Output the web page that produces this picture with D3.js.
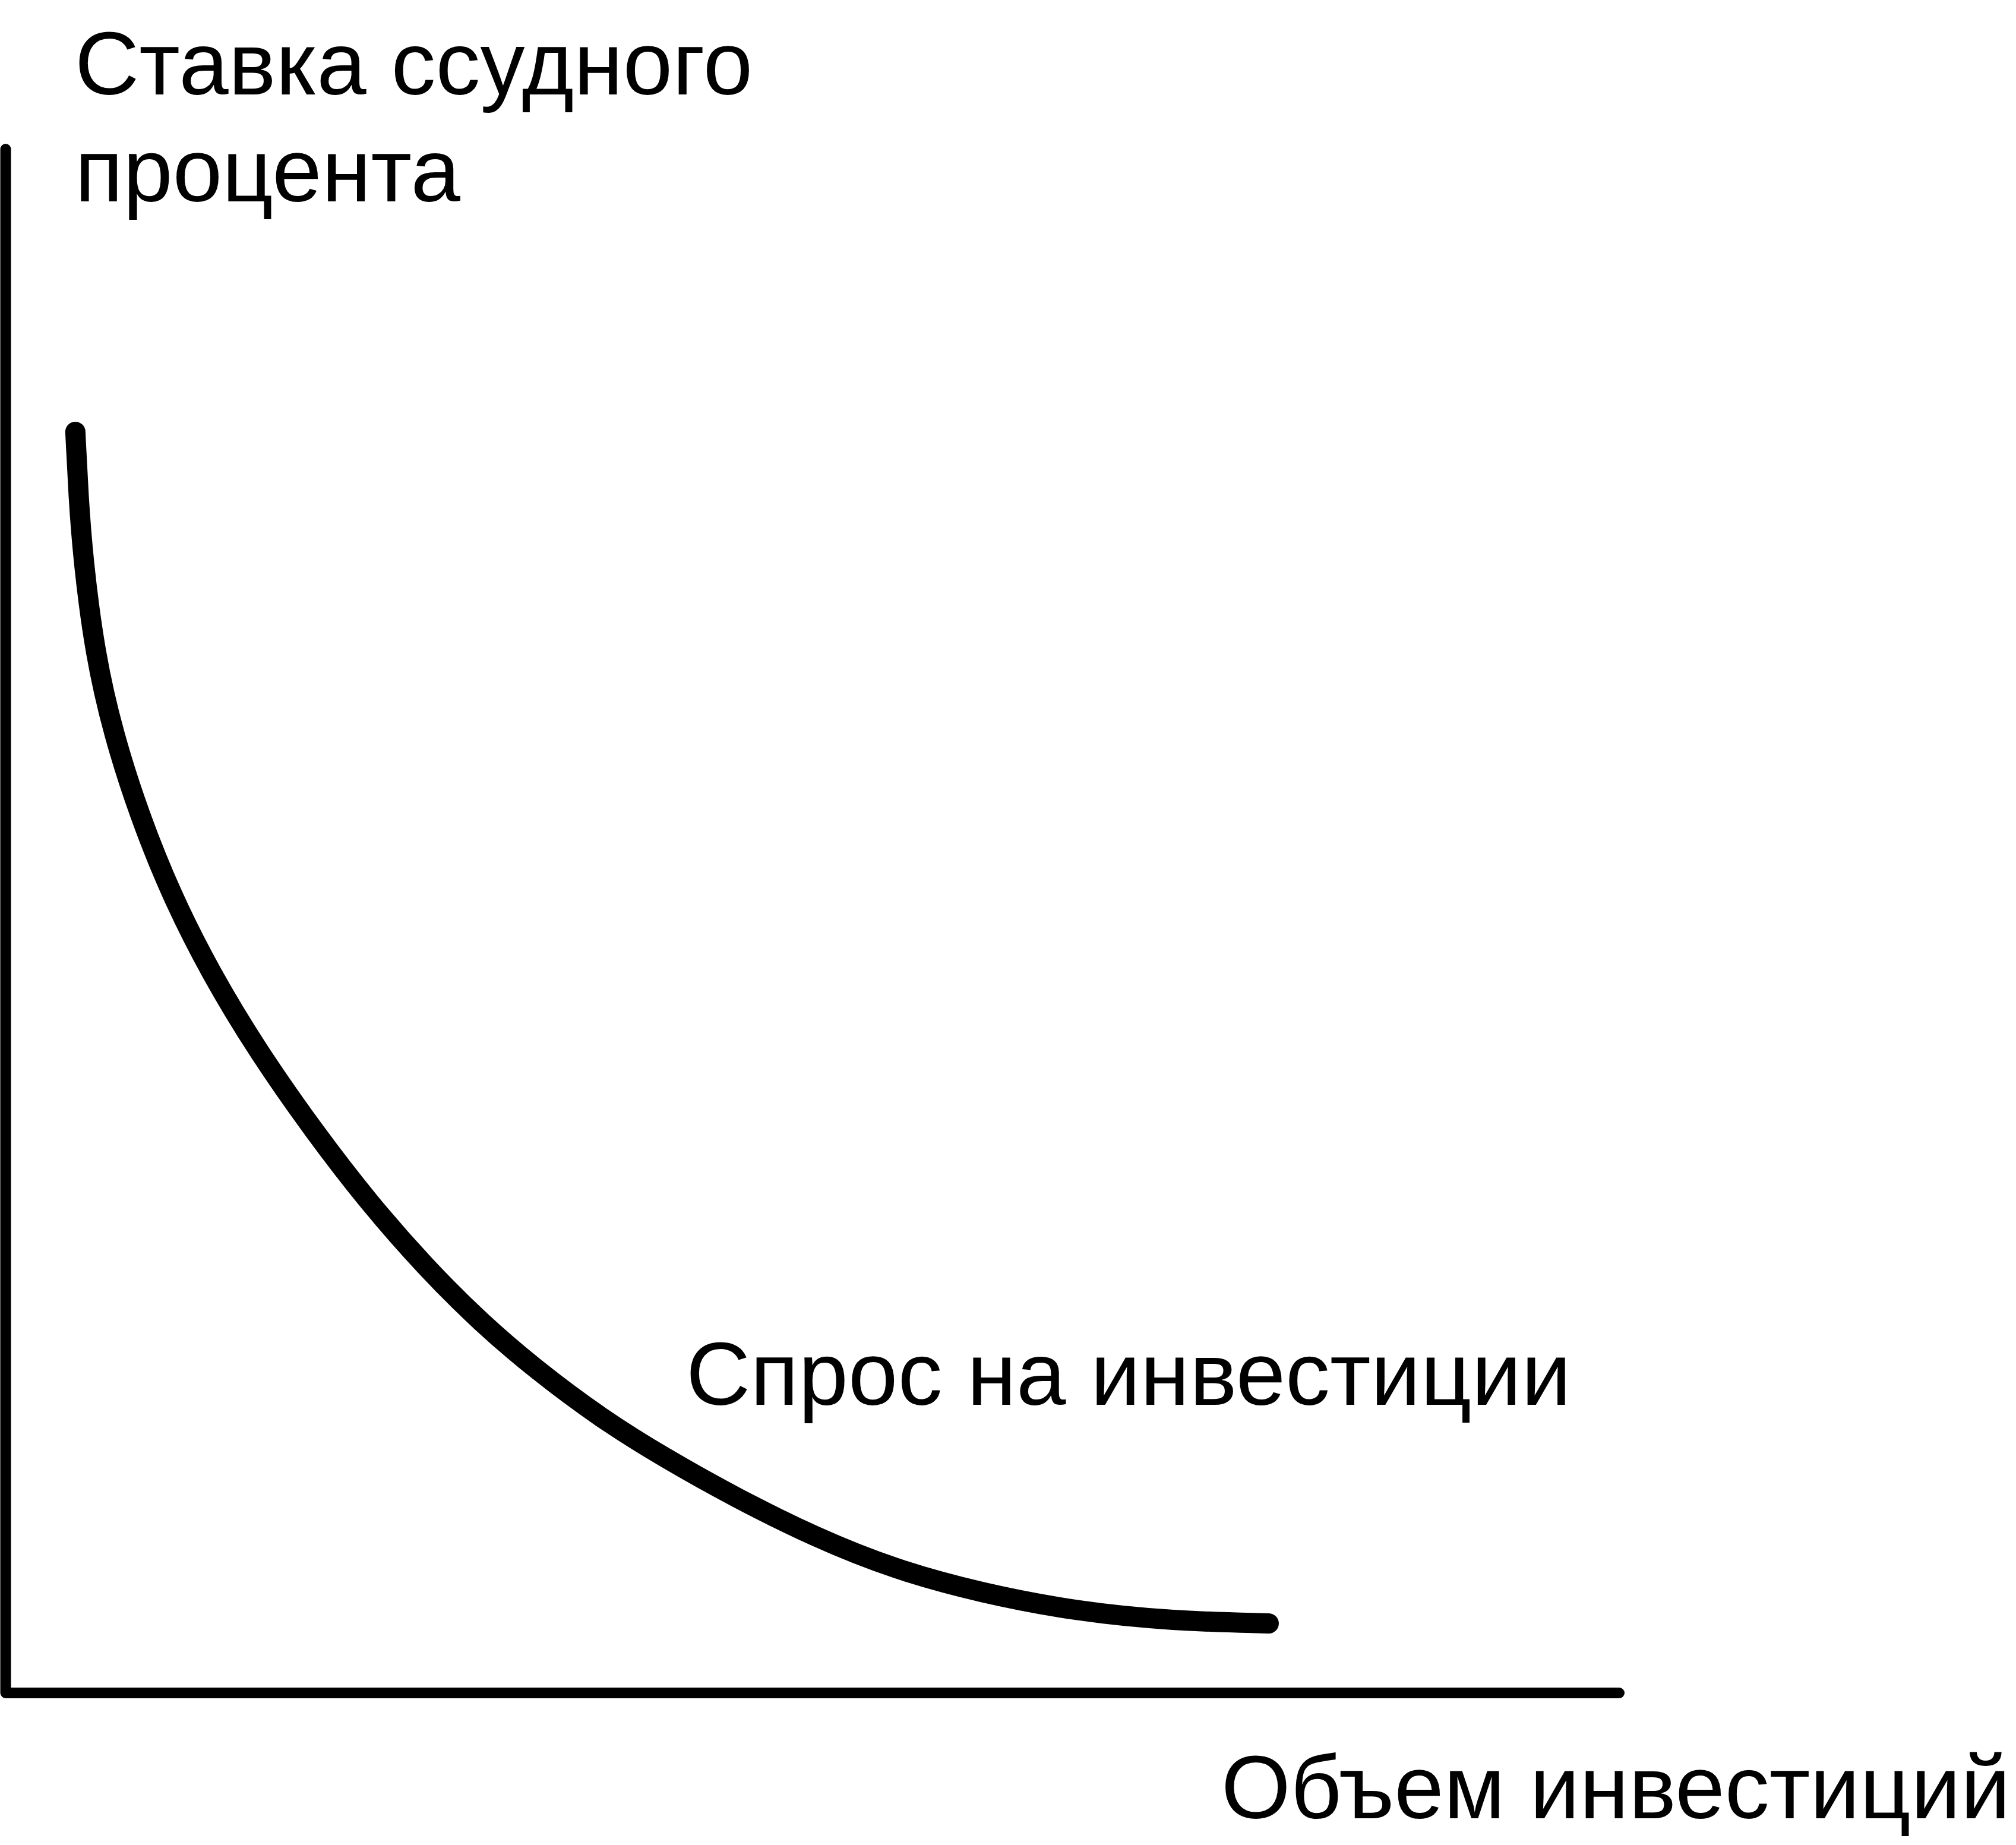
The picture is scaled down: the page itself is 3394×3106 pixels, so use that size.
<!DOCTYPE html>
<html>
<head>
<meta charset="utf-8">
<script src="https://cdn.jsdelivr.net/npm/d3@7"></script>
<style>
  html, body { margin: 0; padding: 0; background: #ffffff; }
  svg { display: block; }
  text { font-family: "Liberation Sans", Arial, sans-serif; fill: #000; }
</style>
</head>
<body>
<script>
// ---- data (axis units 0..100 on both axes) ----
const curveX = [4.32, 4.51, 4.80, 5.54, 6.68, 8.26, 10.22, 12.68, 15.66, 19.12, 22.55, 26.01, 29.47, 32.93, 36.87, 40.81, 45.22, 50.16, 55.09, 60.50, 66.43, 72.35, 78.28];
const curveY = [81.69, 77.57, 73.41, 67.26, 62.10, 56.94, 51.79, 46.67, 41.52, 36.36, 31.70, 27.59, 23.97, 20.89, 17.81, 15.24, 12.66, 10.08, 8.00, 6.46, 5.27, 4.66, 4.50];
const axisX = [0, 0, 100];
const axisY = [100, 0, 0];
const yLabelLines = ["Ставка ссудного", "процента"];
const xLabel = "Объем инвестиций";
const curveLabel = "Спрос на инвестиции";

// ---- layout ----
const W = 3394, H = 3106;
const x = d3.scaleLinear().domain([0, 100]).range([9.5, 2726]);
const y = d3.scaleLinear().domain([0, 100]).range([2850, 251]);

const svg = d3.select("body").append("svg").attr("width", W).attr("height", H);
svg.append("rect").attr("width", W).attr("height", H).attr("fill", "#fff");

const axisPts = axisX.map((v, i) => [v, axisY[i]]);
svg.append("path")
  .attr("d", d3.line().x(d => x(d[0])).y(d => y(d[1]))(axisPts))
  .attr("fill", "none").attr("stroke", "#000").attr("stroke-width", 18)
  .attr("stroke-linecap", "round").attr("stroke-linejoin", "round");

const pts = curveX.map((v, i) => [v, curveY[i]]);
svg.append("path")
  .attr("d", d3.line().x(d => x(d[0])).y(d => y(d[1])).curve(d3.curveBasis)(pts))
  .attr("fill", "none").attr("stroke", "#000").attr("stroke-width", 34)
  .attr("stroke-linecap", "round").attr("stroke-linejoin", "round");

const fs = 150;
svg.selectAll("text.ylab").data(yLabelLines).enter().append("text")
  .attr("class", "ylab")
  .attr("x", 126).attr("y", (d, i) => 159 + i * 180)
  .attr("font-size", fs).text(d => d);

svg.append("text").attr("x", 1155).attr("y", 2365).attr("font-size", fs).text(curveLabel);
svg.append("text").attr("x", 2056).attr("y", 3061).attr("font-size", fs).text(xLabel);
</script>
</body>
</html>
